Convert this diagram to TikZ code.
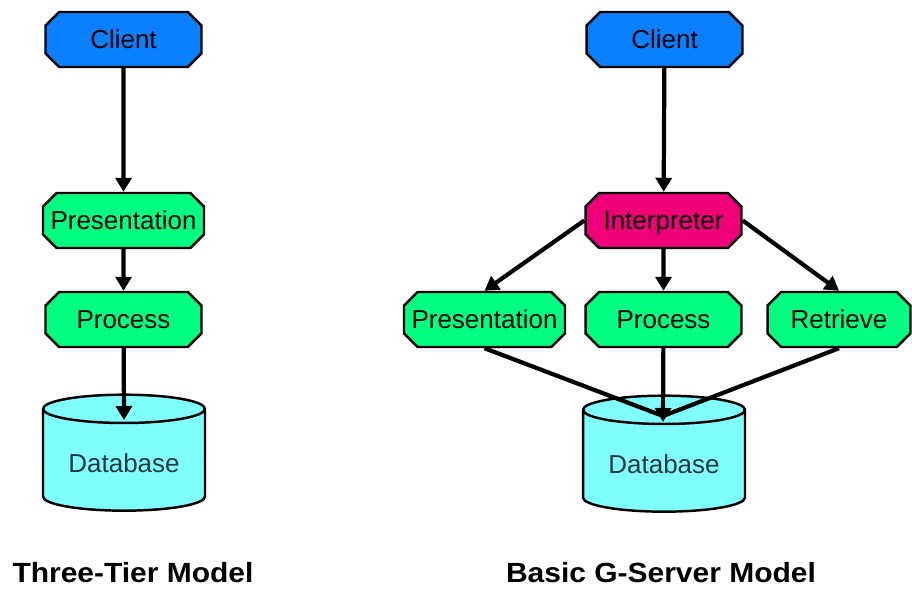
\documentclass[tikz,border=0pt]{standalone}
\usepackage{fontspec}
\setmainfont{Liberation Sans}
\usetikzlibrary{shapes.misc,shapes.geometric,arrows.meta}

\definecolor{clientblue}{RGB}{10,128,255}
\definecolor{tiergreen}{RGB}{0,255,128}
\definecolor{interpink}{RGB}{240,0,120}
\definecolor{dbcyan}{RGB}{128,255,255}
\definecolor{dbtext}{RGB}{35,55,65}

\tikzset{
  box/.style={draw, chamfered rectangle, chamfered rectangle xsep=0.15cm,
    line width=1.4pt, minimum width=3.12cm, minimum height=1.1cm,
    inner sep=0pt, text height=13pt, text depth=2.4pt,
    font=\fontsize{14.8}{17}\selectfont},
  dbase/.style={draw, cylinder, shape border rotate=90, aspect=0.23,
    line width=1.4pt, fill=dbcyan, text=dbtext, minimum width=3.24cm,
    minimum height=2.32cm, font=\fontsize{14.8}{17}\selectfont},
  flow/.style={line width=2.4pt, -{Triangle[width=0.32cm,length=0.28cm]}},
  title/.style={font=\bfseries\fontsize{15.8}{18}\selectfont}
}

\begin{document}
\begin{tikzpicture}[x=0.02cm, y=-0.02cm]
\useasboundingbox (0,0) rectangle (912,588);
% three-tier model
\node (lclient)[box, fill=clientblue] at (123.5,39.5) {Client};
\node (lpres)[box, fill=tiergreen] at (123.5,220.5) {Presentation};
\node (lproc)[box, fill=tiergreen] at (123.5,319.5) {Process};
\node (ldb)[dbase] at (124,463) {Database};
\coordinate (ldbtop) at (124,420);
\node (ltitle)[title] at (133,573) {\scalebox{1.08}[1]{Three-Tier Model}};
% basic g-server model
\node (rclient)[box, fill=clientblue] at (664.5,39.5) {Client};
\node (interp)[box, fill=interpink] at (663.5,220.5) {Interpreter};
\node (rpres)[box, fill=tiergreen] at (484.5,319.5) {Presentation};
\node (rproc)[box, fill=tiergreen] at (663.5,319.5) {Process};
\node (retr)[box, fill=tiergreen, minimum width=2.86cm] at (839,319.5) {Retrieve};
\node (rdb)[dbase] at (664,464) {Database};
\coordinate (rdbtop) at (663,422);
\coordinate (merge) at (663,416);
\node (rtitle)[title] at (661,573) {\scalebox{1.08}[1]{Basic G-Server Model}};
% connectors
\draw[flow] (lclient) -- (lpres);
\draw[flow] (lpres) -- (lproc);
\draw[flow] (lproc) -- (ldbtop);
\draw[flow] (rclient) -- (interp);
\draw[flow] (interp.west) -- (rpres.north);
\draw[flow] (interp) -- (rproc);
\draw[flow] (interp.east) -- (retr.north);
\draw[line width=2.4pt] (rpres.south) -- (merge);
\draw[line width=2.4pt] (retr.south) -- (merge);
\draw[flow] (rproc) -- (rdbtop);
\end{tikzpicture}
\end{document}
